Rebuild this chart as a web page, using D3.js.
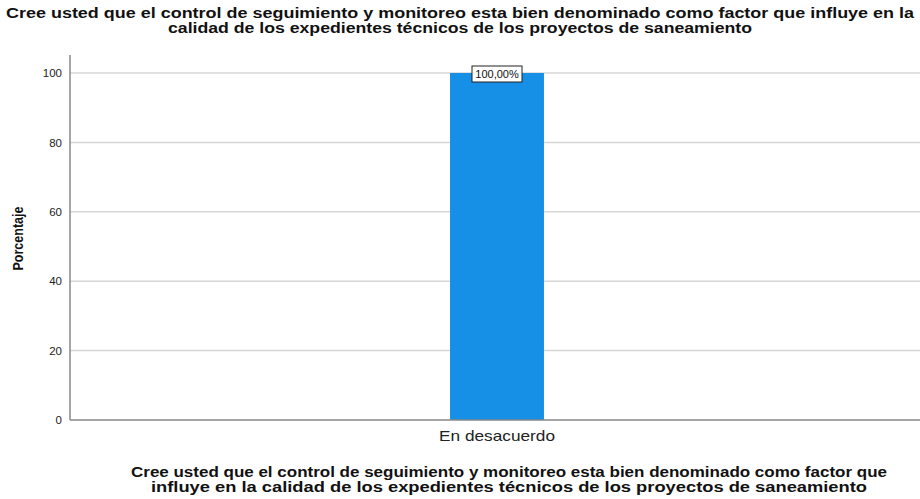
<!DOCTYPE html>
<html>
<head>
<meta charset="utf-8">
<script src="https://cdn.jsdelivr.net/npm/d3@7"></script>
<style>
  body { margin: 0; background: #fff; }
  text { font-family: "Liberation Sans", Arial, sans-serif; }
</style>
</head>
<body>
<div id="chart"></div>
<script>
// data
var categories = ["En desacuerdo"]
var values = [100]
var yTicks = [0, 20, 40, 60, 80, 100]
var titleLines = ["Cree usted que el control de seguimiento y monitoreo esta bien denominado como factor que influye en la",
                  "calidad de los expedientes técnicos de los proyectos de saneamiento"]
var xTitleLines = ["Cree usted que el control de seguimiento y monitoreo esta bien denominado como factor que",
                   "influye en la calidad de los expedientes técnicos de los proyectos de saneamiento"]

var width = 920, height = 499
var margin = {top: 55, right: 0, bottom: 79, left: 70}

var svg = d3.select("#chart").append("svg")
    .attr("width", width)
    .attr("height", height)

// scales (band range runs a bit past the right edge, the plot is cut off there)
var x = d3.scaleBand()
    .domain(categories)
    .range([margin.left, width + 4])
    .paddingInner(0.89)
    .paddingOuter(0.445)

var y = d3.scaleLinear()
    .domain([0, 100])
    .range([height - margin.bottom, 73])

// grid lines
svg.append("g")
    .selectAll("line")
    .data(yTicks.filter(function(d){ return d > 0 }))
    .enter().append("line")
    .attr("x1", margin.left)
    .attr("x2", width)
    .attr("y1", function(d){ return y(d) })
    .attr("y2", function(d){ return y(d) })
    .attr("stroke", "#d6d6d6")
    .attr("stroke-width", 1.5)

// bars
svg.append("g")
    .selectAll("rect")
    .data(values)
    .enter().append("rect")
    .attr("x", function(d, i){ return x(categories[i]) })
    .attr("width", x.bandwidth())
    .attr("y", function(d){ return y(d) })
    .attr("height", function(d){ return y(0) - y(d) })
    .attr("fill", "#1590e6")

// y axis
var yAxis = svg.append("g")
    .attr("transform", "translate(" + margin.left + ",0)")
    .call(d3.axisLeft(y).tickValues(yTicks).tickSize(0).tickPadding(8))
yAxis.select(".domain").attr("stroke", "#888").attr("stroke-width", 1.5)
    .attr("d", "M0," + margin.top + "V" + y(0))
yAxis.selectAll("text").attr("font-size", 11.5).attr("fill", "#222")
    .style("font-family", "Liberation Sans, Arial, sans-serif")

// x axis
var xAxis = svg.append("g")
    .attr("transform", "translate(0," + y(0) + ")")
    .call(d3.axisBottom(x).tickSize(0).tickPadding(10))
xAxis.select(".domain").attr("stroke", "#888").attr("stroke-width", 1.5)
    .attr("d", "M" + margin.left + ",0H" + width)
xAxis.selectAll("text").attr("font-size", 15).attr("fill", "#222")
    .attr("textLength", 116).attr("lengthAdjust", "spacingAndGlyphs")
    .style("font-family", "Liberation Sans, Arial, sans-serif")

// value labels
var labels = svg.append("g")
    .selectAll("g")
    .data(values)
    .enter().append("g")
    .attr("transform", function(d, i){
        return "translate(" + (x(categories[i]) + x.bandwidth() / 2) + "," + (y(d) + 1) + ")"
    })
labels.append("rect")
    .attr("x", -25).attr("y", -8)
    .attr("width", 50).attr("height", 16)
    .attr("fill", "#fff")
    .attr("stroke", "#222")
    .attr("stroke-width", 1)
labels.append("text")
    .attr("text-anchor", "middle")
    .attr("dy", "0.35em")
    .attr("font-size", 11)
    .attr("fill", "#111")
    .text(function(d){ return d3.format(".2f")(d).replace(".", ",") + "%" })

// y title
svg.append("text")
    .attr("transform", "translate(23," + ((margin.top + y(0)) / 2 + 1) + ") rotate(-90)")
    .attr("text-anchor", "middle")
    .attr("font-size", 14)
    .attr("font-weight", "bold")
    .attr("fill", "#111")
    .attr("textLength", 64).attr("lengthAdjust", "spacingAndGlyphs")
    .text("Porcentaje")

// main title
var titleWidths = [908, 584]
svg.append("g").selectAll("text")
    .data(titleLines)
    .enter().append("text")
    .attr("x", width / 2)
    .attr("y", function(d, i){ return 18 + i * 15 })
    .attr("text-anchor", "middle")
    .attr("font-size", 14)
    .attr("font-weight", "bold")
    .attr("fill", "#111")
    .attr("textLength", function(d, i){ return titleWidths[i] })
    .attr("lengthAdjust", "spacingAndGlyphs")
    .text(function(d){ return d })

// x title
var xTitleWidths = [756, 716]
svg.append("g").selectAll("text")
    .data(xTitleLines)
    .enter().append("text")
    .attr("x", 509)
    .attr("y", function(d, i){ return 477 + i * 15 })
    .attr("text-anchor", "middle")
    .attr("font-size", 14)
    .attr("font-weight", "bold")
    .attr("fill", "#111")
    .attr("textLength", function(d, i){ return xTitleWidths[i] })
    .attr("lengthAdjust", "spacingAndGlyphs")
    .text(function(d){ return d })
</script>
</body>
</html>
